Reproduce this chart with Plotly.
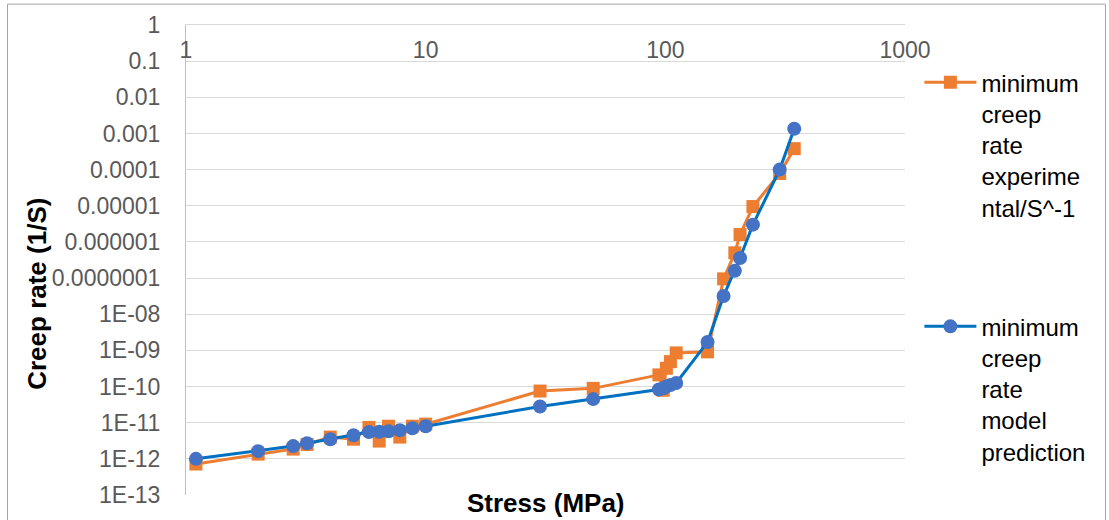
import plotly.graph_objects as go

# Data
stress = [1.1, 2, 2.8, 3.2, 4, 5, 5.8, 6.4, 7, 7.8, 8.8, 10, 30, 50,
          94, 98, 101, 105, 111, 150, 175, 195, 205, 232, 300, 345]
exp_rate = [7.2e-13, 1.35e-12, 1.86e-12, 2.5e-12, 4e-12, 3.5e-12, 7.4e-12, 3.1e-12,
            8e-12, 4e-12, 8e-12, 9.1e-12, 7.5e-11, 8.9e-11,
            2.1e-10, 7.9e-11, 3.2e-10, 4.9e-10, 8.5e-10, 9.1e-10,
            9.5e-8, 5e-7, 1.6e-6, 9.5e-6, 7.8e-5, 3.8e-4]
model_rate = [1.0e-12, 1.63e-12, 2.25e-12, 2.7e-12, 3.5e-12, 4.5e-12, 5.5e-12, 5.6e-12,
              5.8e-12, 6.2e-12, 7.0e-12, 8e-12, 2.8e-11, 4.5e-11,
              8.3e-11, 9e-11, 1.0e-10, 1.1e-10, 1.25e-10, 1.7e-9,
              3.2e-8, 1.6e-7, 3.6e-7, 3.0e-6, 1.0e-4, 1.35e-3]

exp_name = "minimum<br>creep<br>rate<br>experime<br>ntal/S^-1"
model_name = "minimum<br>creep<br>rate<br>model<br>prediction"

x_tickvals = [1, 10, 100, 1000]
x_ticktext = ["1", "10", "100", "1000"]
y_tickvals = [10.0 ** (-k) for k in range(0, 14)]
y_ticktext = ["1", "0.1", "0.01", "0.001", "0.0001", "0.00001", "0.000001",
              "0.0000001", "1E-08", "1E-09", "1E-10", "1E-11", "1E-12", "1E-13"]

FONT = "Liberation Sans, Arial, sans-serif"

fig = go.Figure()
fig.add_trace(go.Scatter(
    x=stress, y=exp_rate, name=exp_name, mode="lines+markers",
    line=dict(color="#ED7D31", width=3),
    marker=dict(symbol="square", size=13, color="#ED7D31"),
    legendgroup="a",
))
fig.add_trace(go.Scatter(
    x=stress, y=model_rate, name=model_name, mode="lines+markers",
    line=dict(color="#0070C0", width=3),
    marker=dict(symbol="circle", size=14, color="#4472C4"),
    legendgroup="b",
))

fig.update_layout(
    width=1109, height=520,
    margin=dict(l=186, r=204, t=23, b=24),
    paper_bgcolor="white", plot_bgcolor="white",
    font=dict(family=FONT, color="#595959"),
    showlegend=True,
    legend=dict(
        x=1.02, xanchor="left", y=0.925, yanchor="top",
        valign="top", tracegroupgap=85,
        font=dict(family=FONT, size=24, color="#000000"),
        itemwidth=52,
    ),
    xaxis=dict(
        type="log", range=[0, 3], side="top",
        tickvals=x_tickvals, ticktext=x_ticktext,
        ticklabelposition="inside", ticklabeloverflow="allow",
        ticklabelstandoff=19,
        tickfont=dict(family=FONT, size=23, color="#595959"),
        showgrid=False, zeroline=False,
        showline=True, linecolor="#d9d9d9", linewidth=1,
        ticks="",
    ),
    yaxis=dict(
        type="log", range=[-13, 0],
        tickvals=y_tickvals, ticktext=y_ticktext,
        tickfont=dict(family=FONT, size=23, color="#595959"),
        ticklabelstandoff=20,
        showgrid=True, gridcolor="#d9d9d9", gridwidth=1,
        showline=True, linecolor="#bfbfbf", linewidth=1,
        zeroline=False, ticks="",
    ),
    annotations=[
        dict(text="<b>Stress (MPa)</b>", xref="paper", yref="paper",
             x=0.5, y=(496.5 - 505) / 473, xanchor="center", yanchor="middle",
             showarrow=False, font=dict(family=FONT, size=26, color="#000000")),
        dict(text="<b>Creep rate (1/S)</b>", xref="paper", yref="paper",
             x=(37 - 186) / 719, y=(496.5 - 294) / 473, xanchor="center", yanchor="middle",
             textangle=-90, showarrow=False,
             font=dict(family=FONT, size=26, color="#000000")),
    ],
    shapes=[
        dict(type="rect", xref="paper", yref="paper",
             x0=(7.5 - 186) / 719, x1=(1105.5 - 186) / 719,
             y0=-0.2, y1=(496.5 - 2.5) / 473,
             line=dict(color="#a6a6a6", width=1), fillcolor="rgba(0,0,0,0)",
             layer="below"),
    ],
)

fig.write_html("out.html")
